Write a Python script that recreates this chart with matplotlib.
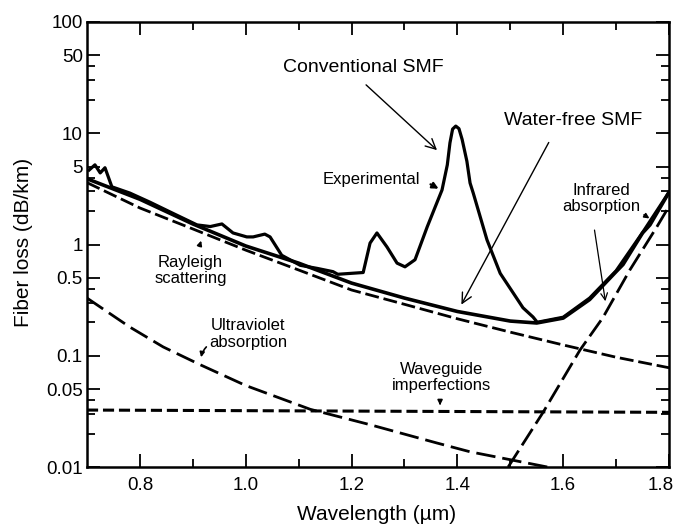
import matplotlib
matplotlib.use("Agg")
import matplotlib.pyplot as plt
import matplotlib.transforms as mtransforms
from matplotlib.ticker import FixedLocator, NullFormatter

plt.rcParams['font.family'] = ['Liberation Sans', 'DejaVu Sans']
plt.rcParams['lines.scale_dashes'] = False

# ---- data ----
# Experimental (conventional SMF) loss spectrum
exp_wl = [0.704, 0.715, 0.725, 0.734, 0.747, 0.781, 0.819, 0.863, 0.908, 0.933,
          0.955, 0.976, 1.002, 1.014, 1.036, 1.046, 1.068, 1.103, 1.135, 1.165,
          1.174, 1.222, 1.235, 1.248, 1.267, 1.286, 1.301, 1.320, 1.343, 1.358,
          1.371, 1.381, 1.386, 1.391, 1.397, 1.403, 1.409, 1.418, 1.424, 1.430,
          1.456, 1.481, 1.505, 1.524, 1.543, 1.551, 1.600, 1.650, 1.700, 1.750,
          1.800]
exp_loss = [4.67, 5.2, 4.4, 4.9, 3.3, 2.9, 2.4, 1.9, 1.5, 1.45,
            1.53, 1.27, 1.17, 1.17, 1.24, 1.17, 0.80, 0.65, 0.61, 0.57,
            0.54, 0.56, 1.03, 1.27, 0.95, 0.68, 0.63, 0.73, 1.44, 2.17,
            3.09, 5.2, 8.2, 10.9, 11.6, 11.0, 8.8, 5.6, 3.57, 2.9,
            1.1, 0.55, 0.37, 0.27, 0.223, 0.20, 0.222, 0.33, 0.58, 1.28,
            2.95]

# Water-free SMF (total intrinsic loss)
tot_wl = [0.70, 0.80, 0.90, 1.00, 1.10, 1.20, 1.30, 1.40, 1.50, 1.55,
          1.60, 1.65, 1.70, 1.713, 1.75, 1.764, 1.80]
tot_loss = [3.9, 2.55, 1.53, 0.97, 0.68, 0.45, 0.33, 0.25, 0.205, 0.197,
            0.218, 0.32, 0.57, 0.66, 1.27, 1.5, 2.95]

# Rayleigh scattering
ray_wl = [0.70, 0.80, 0.90, 1.00, 1.10, 1.20, 1.30, 1.40, 1.50, 1.60, 1.70, 1.80]
ray_loss = [3.6, 2.13, 1.38, 0.89, 0.59, 0.39, 0.29, 0.215, 0.163, 0.125, 0.097, 0.078]

# Ultraviolet absorption
uv_wl = [0.70, 0.781, 0.844, 0.914, 1.00, 1.122, 1.235, 1.362, 1.424, 1.57]
uv_loss = [0.33, 0.181, 0.12, 0.083, 0.054, 0.033, 0.024, 0.0164, 0.0137, 0.010]

# Infrared absorption
ir_wl = [1.496, 1.562, 1.632, 1.675, 1.726, 1.777, 1.80]
ir_loss = [0.010, 0.031, 0.113, 0.22, 0.59, 1.44, 2.2]

# Waveguide imperfections
wg_wl = [0.70, 1.80]
wg_loss = [0.0325, 0.031]

yticks = [100, 50, 10, 5, 1, 0.5, 0.1, 0.05, 0.01]
yticklabels = ["100", "50", "10", "5", "1", "0.5", "0.1", "0.05", "0.01"]
xticks = [0.8, 1.0, 1.2, 1.4, 1.6, 1.8]
xticklabels = ["0.8", "1.0", "1.2", "1.4", "1.6", "1.8"]

# ---- figure ----
fig = plt.figure(figsize=(6.77, 5.27), dpi=100)
ax = fig.add_axes([87/677, 1-467/527, 582/677, 445/527])

ax.plot(exp_wl, exp_loss, color='black', lw=2.3, solid_joinstyle='round')
ax.plot(tot_wl, tot_loss, color='black', lw=2.6)
ax.plot(ray_wl, ray_loss, color='black', lw=2.0, dashes=(10, 3.5))
ax.plot(uv_wl, uv_loss, color='black', lw=2.0, dashes=(14, 5))
ax.plot(ir_wl, ir_loss, color='black', lw=2.0, dashes=(14, 4.5))
ax.plot(wg_wl, wg_loss, color='black', lw=2.2, dashes=(8, 3.5))

ax.set_yscale('log')
ax.set_xlim(0.7, 1.8)
ax.set_ylim(0.01, 100)

ax.yaxis.set_major_locator(FixedLocator(yticks))
ax.set_yticklabels(yticklabels)
minor_y = [m * 10.0**e for e in range(-2, 2) for m in (2, 3, 4)]
ax.yaxis.set_minor_locator(FixedLocator(minor_y))
ax.yaxis.set_minor_formatter(NullFormatter())
ax.set_xticks(xticks)
ax.set_xticklabels(xticklabels)
ax.xaxis.set_minor_locator(FixedLocator([0.9, 1.1, 1.3, 1.5, 1.7]))

ax.tick_params(which='both', direction='in', top=True, right=True, width=1.3, colors='black')
ax.tick_params(which='major', length=9.5)
ax.tick_params(which='minor', length=5.5)
ax.tick_params(axis='y', which='major', pad=3, labelsize=13.5)
ax.tick_params(axis='x', which='major', pad=7, labelsize=13.5)
for s in ax.spines.values():
    s.set_linewidth(1.8)

# nudge the last x tick label so it stays inside the figure
last = ax.get_xticklabels()[-1]
last.set_transform(last.get_transform() +
                   mtransforms.ScaledTranslation(-6/72, 0, fig.dpi_scale_trans))

ax.set_xlabel("Wavelength (\u00b5m)", fontsize=15)
ax.set_ylabel("Fiber loss (dB/km)", fontsize=15)
ax.xaxis.set_label_coords(0.497, -0.085)
ax.yaxis.set_label_coords(-0.093, 0.5045)

# ---- annotations ----
big = 14
small = 12
ax.text(1.2227, 38.6, "Conventional SMF", fontsize=big, ha='center', va='center')
ax.annotate("", xy=(1.3654, 6.78), xytext=(1.2236, 28.3),
            arrowprops=dict(arrowstyle='->', lw=1.0, color='black', mutation_scale=18))
ax.text(1.6197, 13.15, "Water-free SMF", fontsize=big, ha='center', va='center')
ax.annotate("", xy=(1.4051, 0.274), xytext=(1.5752, 8.69),
            arrowprops=dict(arrowstyle='->', lw=1.0, color='black', mutation_scale=18))

ax.text(1.2378, 3.80, "Experimental", fontsize=small, ha='center', va='center')
ax.annotate("", xy=(1.3692, 3.09), xytext=(1.3446, 3.57),
            arrowprops=dict(arrowstyle='-|>', lw=1.6, color='black', mutation_scale=9))

ax.text(0.8957, 0.584, "Rayleigh\nscattering", fontsize=small, ha='center', va='center',
        linespacing=1.15)
ax.annotate("", xy=(0.9174, 1.144), xytext=(0.9108, 0.911),
            arrowprops=dict(arrowstyle='-|>', lw=1.2, color='black', mutation_scale=7))

ax.text(1.0043, 0.158, "Ultraviolet\nabsorption", fontsize=small, ha='center', va='center',
        linespacing=1.15)
ax.annotate("", xy=(0.9149, 0.0916), xytext=(0.9293, 0.125),
            arrowprops=dict(arrowstyle='-|>', lw=1.2, color='black', mutation_scale=7,
                            connectionstyle='arc3,rad=0.2'))

ax.text(1.3701, 0.0637, "Waveguide\nimperfections", fontsize=small, ha='center', va='center',
        linespacing=1.15)
ax.annotate("", xy=(1.3673, 0.0339), xytext=(1.3673, 0.040),
            arrowprops=dict(arrowstyle='-|>', lw=1.2, color='black', mutation_scale=7))

ax.text(1.6717, 2.59, "Infrared\nabsorption", fontsize=small, ha='center', va='center',
        linespacing=1.15)
ax.annotate("", xy=(1.7674, 1.66), xytext=(1.7485, 1.907),
            arrowprops=dict(arrowstyle='-|>', lw=1.2, color='black', mutation_scale=7))
ax.annotate("", xy=(1.6805, 0.292), xytext=(1.6584, 1.427),
            arrowprops=dict(arrowstyle='->', lw=0.9, color='black', mutation_scale=12))

fig.savefig("out.png", dpi=100)
